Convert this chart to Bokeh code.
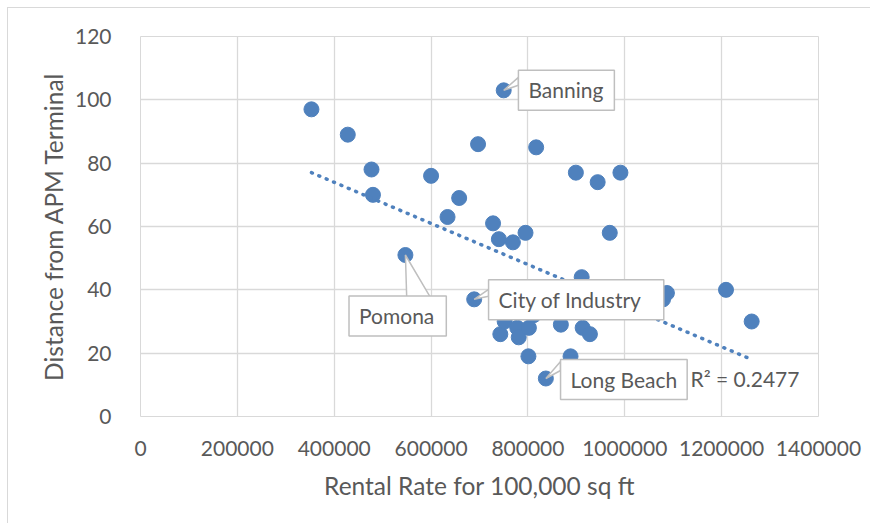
import numpy as np
from bokeh.plotting import figure
from bokeh.models import Range1d, FixedTicker, Label
from bokeh.core.properties import value
from bokeh.embed import file_html
from bokeh.resources import INLINE

# ---------------- data ----------------
rent = [353000, 428000, 477000, 480000, 547000, 600000, 634000, 658000, 689000, 697000,
        728000, 740000, 743000, 750000, 752000, 769000, 778000, 781000, 795000, 801000,
        802000, 812000, 817000, 837000, 868000, 888000, 899000, 911000, 913000, 928000,
        944000, 969000, 991000, 1079000, 1087000, 1209000, 1262000]
distance = [97, 89, 78, 70, 51, 76, 63, 69, 37, 86,
            61, 56, 26, 103, 30, 55, 28, 25, 58, 19,
            28, 32, 85, 12, 29, 19, 77, 44, 28, 26,
            74, 58, 77, 37, 39, 40, 30]
names = [""] * len(rent)
names[4] = "Pomona"
names[8] = "City of Industry"
names[13] = "Banning"
names[23] = "Long Beach"

trend_x = [353000, 1262000]
trend_y = [77.0, 18.0]
r2_text = "R\u00b2 = 0.2477"

x_ticks = [0, 200000, 400000, 600000, 800000, 1000000, 1200000, 1400000]
x_tick_labels = ["0", "200000", "400000", "600000", "800000", "1000000", "1200000", "1400000"]
y_ticks = [0, 20, 40, 60, 80, 100, 120]
y_tick_labels = ["0", "20", "40", "60", "80", "100", "120"]

x_title = "Rental Rate for 100,000 sq ft"
y_title = "Distance from APM Terminal"

# ---------------- styling / layout ----------------
FONT = "Lato"
GRAY_TXT = "#595959"
GRID = "#d9d9d9"
BLUE = "#4f81bd"
BOX = "#bfbfbf"

FW, FH = 678, 380
XMIN, XMAX = 0, 1400000
YMIN, YMAX = 0, 120
UX = (XMAX - XMIN) / FW   # data units per screen px
UY = (YMAX - YMIN) / FH

p = figure(width=870, height=523, output_backend="svg", toolbar_location=None,
           x_range=Range1d(XMIN, XMAX), y_range=Range1d(YMIN, YMAX),
           min_border_left=140, min_border_right=52, min_border_top=36, min_border_bottom=107)
p.frame_width = FW
p.frame_height = FH
p.background_fill_color = "white"
p.border_fill_color = None
p.outline_line_color = GRID
p.outline_line_width = 1
p.styles = {
    "background": ("linear-gradient(#d9d9d9,#d9d9d9) 7px 7px / 1px 100% no-repeat, "
                   "linear-gradient(#d9d9d9,#d9d9d9) 7px 7px / 100% 1px no-repeat, white"),
}

p.xaxis.ticker = FixedTicker(ticks=x_ticks)
p.yaxis.ticker = FixedTicker(ticks=y_ticks)
p.xaxis.major_label_overrides = {t: l for t, l in zip(x_ticks, x_tick_labels)}
p.yaxis.major_label_overrides = {t: l for t, l in zip(y_ticks, y_tick_labels)}
for ax in (p.xaxis, p.yaxis):
    ax.axis_line_color = None
    ax.major_tick_line_color = None
    ax.minor_tick_line_color = None
    ax.major_label_text_font = FONT
    ax.major_label_text_font_size = "21px"
    ax.major_label_text_color = GRAY_TXT
    ax.axis_label_text_font = FONT
    ax.axis_label_text_font_size = "24.5px"
    ax.axis_label_text_font_style = "normal"
    ax.axis_label_text_color = GRAY_TXT
p.xaxis.axis_label = x_title
p.yaxis.axis_label = y_title
p.xaxis.major_label_standoff = 18
p.xaxis.axis_label_standoff = 12
p.yaxis.major_label_standoff = 23
p.yaxis.axis_label_standoff = 4

p.xgrid.grid_line_color = GRID
p.ygrid.grid_line_color = GRID
p.xgrid.grid_line_width = 1.3
p.ygrid.grid_line_width = 1.3

# points
p.scatter(rent, distance, size=15, marker="circle", fill_color=BLUE, line_color=BLUE)

# trendline
p.line(trend_x, trend_y, line_color=BLUE, line_width=3.5, line_dash="1 7", line_cap="round")

# callouts: box-left offset (px right), centre offset (px down), right padding, pointer base points
callout_style = {
    "Banning": dict(tx=14.7, ty=0.0, pr=11, base=[(14.7, -13), (14.7, -5)]),
    "City of Industry": dict(tx=14.4, ty=0.5, pr=22, base=[(14.4, -10), (14.4, -3)]),
    "Long Beach": dict(tx=14.7, ty=1.0, pr=10, base=[(14.7, -17), (14.7, -8)]),
    "Pomona": dict(tx=-56.4, ty=61.0, pr=12, base=[(1.3, 42.4), (25.0, 42.4)]),
}

pxs, pys = [], []
for xv, yv, nm in zip(rent, distance, names):
    if not nm:
        continue
    st = callout_style[nm]
    (bx1, by1), (bx2, by2) = st["base"]
    pxs.append([xv, xv + bx1 * UX, xv + bx2 * UX])
    pys.append([yv, yv - by1 * UY, yv - by2 * UY])
p.patches(pxs, pys, fill_color="white", line_color=BOX, line_width=1.5)

for xv, yv, nm in zip(rent, distance, names):
    if not nm:
        continue
    st = callout_style[nm]
    lab = Label(x=xv + st["tx"] * UX, y=yv - st["ty"] * UY, text=nm,
                text_font=FONT, text_font_size="21px", text_color=GRAY_TXT,
                text_align="left", text_baseline="middle",
                background_fill_color="white", border_line_color=BOX, border_line_width=1.5)
    try:
        lab.padding = dict(left=10, right=st["pr"], top=7, bottom=8)
    except Exception:
        lab.padding = 8
    p.add_layout(lab)

# R^2 label (screen position near the trend end)
r2 = Label(x=XMIN + 550 * UX, y=YMIN + 38 * UY, text=r2_text,
           text_font=FONT, text_font_size="21px", text_color=GRAY_TXT,
           text_align="left", text_baseline="middle")
p.add_layout(r2)

open("out.html", "w").write(file_html(p, INLINE))
